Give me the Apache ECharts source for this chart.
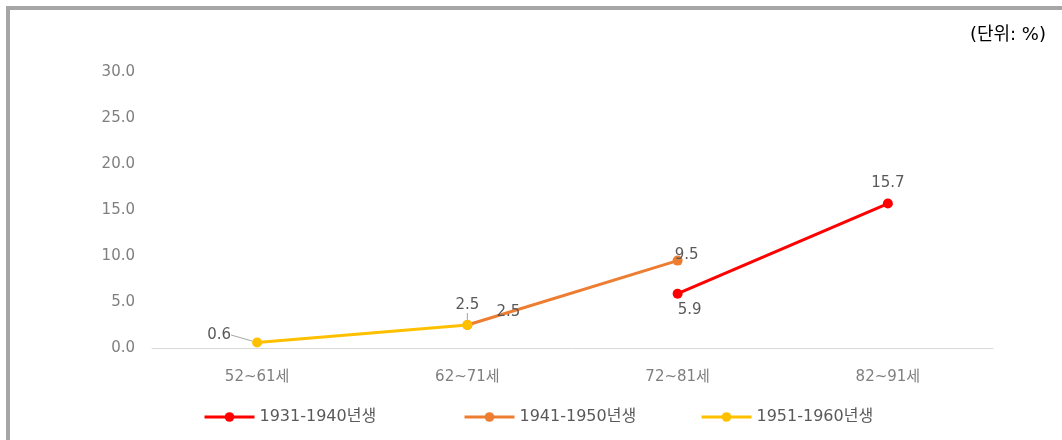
<!DOCTYPE html>
<html>
<head>
<meta charset="utf-8">
<script src="https://cdn.jsdelivr.net/npm/echarts@6/dist/echarts.min.js"></script>
<style>
  html, body { margin: 0; padding: 0; background: #fff; }
  #chart { width: 1062px; height: 440px; }
</style>
</head>
<body>
<div id="chart"></div>
<script>
var categories = ['52~61세', '62~71세', '72~81세', '82~91세'];
var seriesNames = ['1931-1940년생', '1941-1950년생', '1951-1960년생'];
var values1931 = [null, null, 5.9, 15.7];
var values1941 = [null, 2.5, 9.5, null];
var values1951 = [0.6, 2.5, null, null];
var yTicks = [0, 5, 10, 15, 20, 25, 30];

var font = '"DejaVu Sans", "Noto Sans CJK KR", sans-serif';
var labelColor = '#595959';

function lineSeries(name, data, color, z) {
  return {
    name: name,
    type: 'line',
    data: data,
    z: z,
    symbol: 'circle',
    symbolSize: 10,
    connectNulls: false,
    lineStyle: { color: color, width: 3 },
    itemStyle: { color: color },
    label: {
      show: true,
      position: 'top',
      color: labelColor,
      fontFamily: font,
      fontSize: 15,
      formatter: function (p) { return p.value == null ? '' : p.value.toFixed(1); }
    }
  };
}

var s1931 = lineSeries(seriesNames[0], values1931, '#ff0000', 3);
s1931.labelLayout = function (p) {
  if (p.dataIndex === 2) return { dx: 12, dy: 34 };
  if (p.dataIndex === 3) return { dy: -3 };
  return {};
};
var s1941 = lineSeries(seriesNames[1], values1941, '#ed7d31', 4);
s1941.labelLayout = function (p) {
  if (p.dataIndex === 1) return { dx: 41, dy: 5 };
  if (p.dataIndex === 2) return { dx: 9, dy: 12 };
  return {};
};
var s1951 = lineSeries(seriesNames[2], values1951, '#ffc000', 5);
s1951.labelLayout = function (p) {
  if (p.dataIndex === 0) return { dx: -38, dy: 10 };
  if (p.dataIndex === 1) return { dx: 0, dy: -2 };
  return {};
};
s1951.labelLine = { show: true, lineStyle: { color: '#a6a6a6', width: 1 } };

// one legend per item so each sits where it does in the picture
var legendLefts = [198, 458, 695];
var legends = seriesNames.map(function (name, i) {
  return {
    left: legendLefts[i],
    top: 404,
    itemWidth: 50,
    itemHeight: 12,
    lineStyle: { width: 3 },
    textStyle: { color: labelColor, fontFamily: font, fontSize: 16 },
    data: [name]
  };
});

var chart = echarts.init(document.getElementById('chart'), null, { renderer: 'canvas' });
chart.setOption({
  animation: false,
  backgroundColor: '#fff',
  graphic: [
    {
      type: 'rect',
      shape: { x: 8, y: 8, width: 1100, height: 500 },
      style: { fill: 'none', stroke: '#a6a6a6', lineWidth: 4 },
      silent: true
    },
    {
      type: 'text',
      right: 16,
      top: 26,
      style: { text: '(단위: %)', fill: '#000', font: '18px "DejaVu Sans", "Noto Sans CJK KR"' }
    }
  ],
  grid: { left: 152, right: 69, top: 72, bottom: 92 },
  legend: legends,
  xAxis: {
    type: 'category',
    data: categories,
    boundaryGap: true,
    axisLine: { lineStyle: { color: '#d9d9d9', width: 1 } },
    axisTick: { show: false },
    axisLabel: { color: '#7f7f7f', fontFamily: font, fontSize: 15, margin: 22 }
  },
  yAxis: {
    type: 'value',
    min: yTicks[0],
    max: yTicks[yTicks.length - 1],
    interval: 5,
    splitLine: { show: false },
    axisLine: { show: false },
    axisTick: { show: false },
    axisLabel: {
      color: '#7f7f7f', fontFamily: font, fontSize: 15, margin: 17,
      formatter: function (v) { return v.toFixed(1); }
    }
  },
  series: [s1931, s1941, s1951]
});
</script>
</body>
</html>
